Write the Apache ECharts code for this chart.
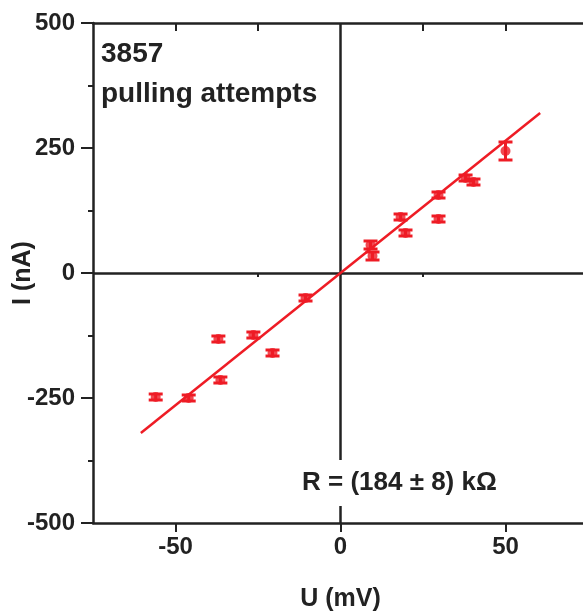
<!DOCTYPE html>
<html>
<head>
<meta charset="utf-8">
<script src="https://cdn.jsdelivr.net/npm/echarts@6/dist/echarts.min.js"></script>
<style>
  html, body { margin: 0; padding: 0; background: #fff; }
  #chart { width: 583px; height: 616px; }
</style>
</head>
<body>
<div id="chart"></div>
<script>
// measured I-U points (mV, nA) with error half-widths
const voltage = [-56, -46, -37, -36.4, -26.4, -20.6, -10.6, 9.1, 9.7, 18.2, 19.7, 29.7, 29.7, 37.9, 40.3, 50];
const current = [-248, -250, -132, -214, -124, -160, -50, 56, 34, 112, 80, 156, 108, 190, 182, 244];
const currentErr = [6, 6, 6, 6, 6, 6, 6, 8, 8, 6, 6, 6, 6, 6, 6, 18];

// linear fit R = 184 kOhm
const fitU = [-60.5, 60.5];
const fitI = [-320, 320];

const xLabelTicks = [-50, 0, 50];
const xMinorTicks = [-25, 25];
const xTopTicks = [-50, -25, 25, 50];

const RED = '#ee1c25';
const INK = '#222';
const FONT = 'Liberation Sans';

const points = voltage.map((u, i) => [u, current[i]]);
const errBars = voltage.map((u, i) => [u, current[i] - currentErr[i], current[i] + currentErr[i]]);
const fitLine = fitU.map((u, i) => [u, fitI[i]]);

const chart = echarts.init(document.getElementById('chart'));

// plot box runs a little past the right edge of the picture, as in the original
const gridBox = { left: 93, top: 23, width: 495, height: 500, containLabel: false, outerBoundsMode: 'none' };

const option = {
  animation: false,
  grid: [gridBox, gridBox],
  xAxis: [
    {
      gridIndex: 0,
      type: 'value',
      position: 'bottom',
      min: -75,
      max: 75,
      name: 'U (mV)',
      nameLocation: 'middle',
      nameGap: 64,
      nameTextStyle: { fontFamily: FONT, fontWeight: 'bold', fontSize: 25, color: INK },
      axisLine: { show: true, onZero: false, lineStyle: { color: INK, width: 2.5 } },
      axisTick: { show: true, inside: false, length: 9, customValues: xLabelTicks, lineStyle: { color: INK, width: 2 } },
      axisLabel: { customValues: xLabelTicks, margin: 12, fontFamily: FONT, fontWeight: 'bold', fontSize: 24, color: INK },
      splitLine: { show: false }
    },
    {
      gridIndex: 0,
      type: 'value',
      position: 'top',
      min: -75,
      max: 75,
      axisLine: { show: true, onZero: false, lineStyle: { color: INK, width: 2.5 } },
      axisTick: { show: true, inside: true, length: 8, customValues: xTopTicks, lineStyle: { color: INK, width: 2 } },
      axisLabel: { show: false },
      splitLine: { show: false }
    },
    {
      gridIndex: 1,
      type: 'value',
      position: 'bottom',
      min: -75,
      max: 75,
      axisLine: { show: false },
      axisTick: { show: true, inside: false, length: 4, customValues: xMinorTicks, lineStyle: { color: INK, width: 2 } },
      axisLabel: { show: false },
      splitLine: { show: false }
    }
  ],
  yAxis: [
    {
      gridIndex: 0,
      type: 'value',
      min: -500,
      max: 500,
      interval: 250,
      name: 'I (nA)',
      nameLocation: 'middle',
      nameGap: 57,
      nameMoveOverlap: false,
      nameRotate: 90,
      nameTextStyle: { fontFamily: FONT, fontWeight: 'bold', fontSize: 25, color: INK },
      axisLine: { show: true, onZero: false, lineStyle: { color: INK, width: 2.5 } },
      axisTick: { show: true, inside: false, length: 12, lineStyle: { color: INK, width: 2 } },
      minorTick: { show: true, splitNumber: 2, length: 5, lineStyle: { color: INK, width: 2 } },
      axisLabel: { margin: 18, fontFamily: FONT, fontWeight: 'bold', fontSize: 24, color: INK },
      splitLine: { show: false }
    },
    {
      gridIndex: 1,
      type: 'value',
      min: -500,
      max: 500,
      show: false
    }
  ],
  graphic: [
    {
      type: 'text',
      left: 101,
      top: 34,
      z: 10,
      style: {
        text: '3857\npulling attempts',
        font: 'bold 28px "Liberation Sans"',
        fill: INK,
        lineHeight: 40
      }
    },
    {
      type: 'text',
      left: 296,
      top: 460,
      z: 10,
      style: {
        text: 'R = (184 ± 8) kΩ',
        font: 'bold 26px "Liberation Sans"',
        fill: INK,
        backgroundColor: '#fff',
        padding: [10, 6, 10, 6]
      }
    }
  ],
  series: [
    {
      name: 'fit',
      type: 'line',
      xAxisIndex: 0,
      yAxisIndex: 0,
      data: fitLine,
      showSymbol: false,
      symbol: 'none',
      lineStyle: { color: RED, width: 2.5 },
      z: 3,
      markLine: {
        silent: true,
        symbol: 'none',
        label: { show: false },
        lineStyle: { color: INK, width: 2.5, type: 'solid' },
        data: [{ xAxis: 0 }, { yAxis: 0 }],
        z: 1
      }
    },
    {
      name: 'error',
      type: 'custom',
      xAxisIndex: 0,
      yAxisIndex: 0,
      data: errBars,
      z: 4,
      renderItem(params, api) {
        const u = api.value(0);
        const lo = api.coord([u, api.value(1)]);
        const hi = api.coord([u, api.value(2)]);
        const w = 7;
        const st = { stroke: RED, lineWidth: 3 };
        return {
          type: 'group',
          children: [
            { type: 'line', shape: { x1: lo[0], y1: lo[1], x2: hi[0], y2: hi[1] }, style: st },
            { type: 'line', shape: { x1: lo[0] - w, y1: lo[1], x2: lo[0] + w, y2: lo[1] }, style: st },
            { type: 'line', shape: { x1: hi[0] - w, y1: hi[1], x2: hi[0] + w, y2: hi[1] }, style: st }
          ]
        };
      }
    },
    {
      name: 'data',
      type: 'scatter',
      xAxisIndex: 0,
      yAxisIndex: 0,
      data: points,
      symbol: 'circle',
      symbolSize: 10,
      itemStyle: { color: RED },
      z: 5
    }
  ]
};

chart.setOption(option);
</script>
</body>
</html>
